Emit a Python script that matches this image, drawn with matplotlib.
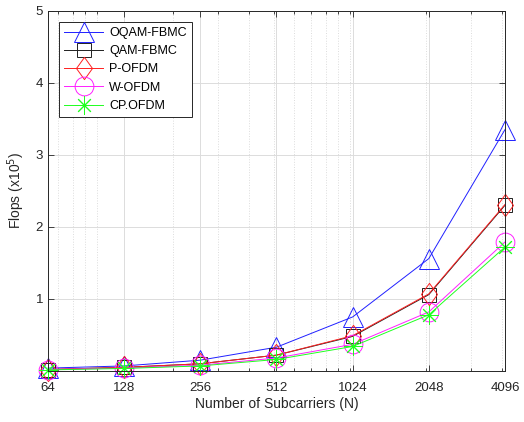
import numpy as np
import matplotlib
matplotlib.use("Agg")
import matplotlib.pyplot as plt
from matplotlib.ticker import FixedLocator, NullFormatter
from matplotlib.path import Path

plt.rcParams['font.family'] = ['Liberation Sans', 'DejaVu Sans']

subcarriers = [64, 128, 256, 512, 1024, 2048, 4096]
tick_labels = ['64', '128', '256', '512', '1024', '2048', '4096']

# Flops in units of 1e5
oqam_fbmc = [0.04, 0.07, 0.15, 0.33, 0.75, 1.56, 3.35]
qam_fbmc = [0.02, 0.05, 0.10, 0.22, 0.48, 1.06, 2.30]
p_ofdm = [0.02, 0.05, 0.10, 0.22, 0.49, 1.07, 2.31]
w_ofdm = [0.02, 0.04, 0.08, 0.18, 0.37, 0.82, 1.79]
cp_ofdm = [0.015, 0.035, 0.07, 0.16, 0.34, 0.78, 1.72]

# slightly tall diamond
diamond = Path([(0, 1), (0.72, 0), (0, -1), (-0.72, 0), (0, 1)],
               [Path.MOVETO, Path.LINETO, Path.LINETO, Path.LINETO, Path.CLOSEPOLY])

fig = plt.figure(figsize=(5.24, 4.22), dpi=100)
ax = fig.add_axes([0.0916, 0.1209, 0.8721, 0.8537])

series = [
    (oqam_fbmc, 'OQAM-FBMC', '#2020ff', '^', 15),
    (qam_fbmc, 'QAM-FBMC', '#202020', 's', 10.5),
    (p_ofdm, 'P-OFDM', '#ff2020', diamond, 16),
    (w_ofdm, 'W-OFDM', '#ff20ff', 'o', 13.5),
    (cp_ofdm, 'CP.OFDM', '#20ff20', (8, 2, 0), 13),
]
for vals, name, col, mk, ms in series:
    ax.plot(subcarriers, vals, color=col, marker=mk, markersize=ms,
            markerfacecolor='none', markeredgecolor=col, markeredgewidth=0.7,
            linewidth=0.7, label=name, clip_on=False)

ax.set_xscale('log', base=2)
ax.set_xlim(64, 4096)
ax.set_ylim(0, 5)
ax.set_xticks(subcarriers)
ax.set_xticklabels(tick_labels)
minor = [70, 80, 90, 100, 200, 300, 400, 500, 600, 700, 800, 900,
         1000, 2000, 3000, 4000]
ax.xaxis.set_minor_locator(FixedLocator(minor))
ax.xaxis.set_minor_formatter(NullFormatter())
ax.set_yticks([1, 2, 3, 4, 5])

ax.grid(which='major', color='#dcdcdc', linewidth=0.7)
ax.grid(which='minor', axis='x', color='#dcdcdc', linestyle=':', linewidth=0.7)
ax.set_axisbelow(True)

ax.tick_params(which='both', direction='in', top=True, right=True,
               labelsize=9.5, colors='#262626', width=0.6)
ax.tick_params(which='major', length=4)
ax.tick_params(which='minor', length=2)
ax.tick_params(axis='x', which='major', pad=8)
for s in ax.spines.values():
    s.set_color('#262626')
    s.set_linewidth(0.7)

ax.set_xlabel('Number of Subcarriers (N)', fontsize=10, color='#262626', labelpad=2)
ax.set_ylabel('Flops (x10$^5$)', fontsize=10, color='#262626', labelpad=6)

leg = ax.legend(loc='upper left', fontsize=9, fancybox=False, framealpha=1,
                edgecolor='#262626', borderaxespad=0.9, handlelength=3.1,
                labelspacing=0.5, borderpad=0.4, handletextpad=0.5)
leg.get_frame().set_linewidth(0.7)
leg.set_zorder(5)

fig.savefig('out.png', dpi=100)
